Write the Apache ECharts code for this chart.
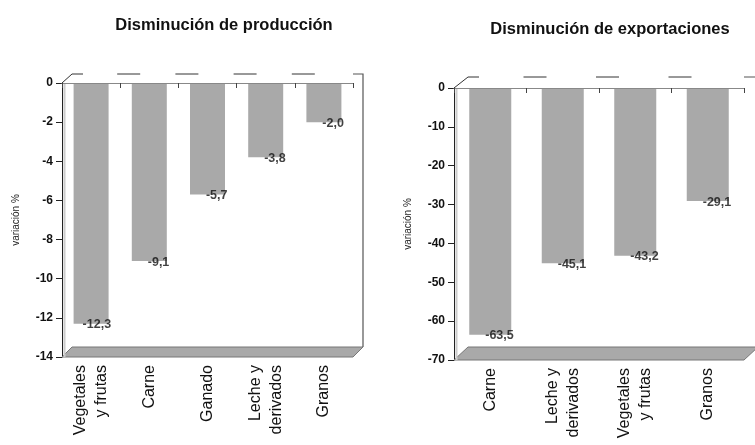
<!DOCTYPE html>
<html>
<head>
<meta charset="utf-8">
<script src="https://cdn.jsdelivr.net/npm/echarts@6/dist/echarts.min.js"></script>
<style>html,body{margin:0;padding:0;background:#fff}#c{width:755px;height:445px}</style>
</head>
<body>
<div id="c"></div>
<script>
// ---- data ----
const title1 = 'Disminución de producción';
const title2 = 'Disminución de exportaciones';
const axisName = 'variación %';
const cats1 = ['Vegetales\ny frutas', 'Carne', 'Ganado', 'Leche y\nderivados', 'Granos'];
const vals1 = [-12.3, -9.1, -5.7, -3.8, -2.0];
const cats2 = ['Carne', 'Leche y\nderivados', 'Vegetales\ny frutas', 'Granos'];
const vals2 = [-63.5, -45.1, -43.2, -29.1];
const yTicks1 = [-14, -12, -10, -8, -6, -4, -2, 0];
const yTicks2 = [-70, -60, -50, -40, -30, -20, -10, 0];

// ---- layout ----
const FONT = '"Liberation Sans", Arial, sans-serif';
const G1 = {left: 62, top: 83, width: 291, height: 274, dx: 10, dy: 9, dyB: 10, bw: 35};
const G2 = {left: 454, top: 88, width: 290, height: 272, dx: 14, dy: 11, dyB: 13, bw: 42};
const BAR = '#a9a9a9';

function fmt(v) { return v.toFixed(1).replace('.', ','); }

function axesFor(gi, g, cats, ticks) {
  const step = ticks[1] - ticks[0];
  return {
    x: [
      { gridIndex: gi, type: 'category', data: cats, position: 'bottom',
        axisLine: {show: true, lineStyle: {color: '#888', width: 1}},
        axisTick: {show: true, length: 5, lineStyle: {color: '#444'}},
        axisLabel: {rotate: 90, fontFamily: FONT, fontSize: 16, color: '#111', margin: 8, lineHeight: 21},
        z: 5 },
      { gridIndex: gi, type: 'category', data: cats, position: 'top',
        axisLine: {show: true, onZero: false, lineStyle: {color: '#222', width: 1}},
        axisTick: {show: true, inside: true, length: 5, lineStyle: {color: '#222'}},
        axisLabel: {show: false} }
    ],
    y: {
      gridIndex: gi, type: 'value', min: ticks[0], max: ticks[ticks.length - 1], interval: step,
      name: axisName, nameLocation: 'middle', nameRotate: 90, nameGap: 41,
      nameTextStyle: {fontFamily: FONT, fontSize: 10, color: '#222'},
      axisLine: {show: true, lineStyle: {color: '#222'}},
      axisTick: {show: true, length: 6, lineStyle: {color: '#222'}},
      axisLabel: {fontFamily: FONT, fontSize: 12, fontWeight: 'bold', color: '#111', margin: 9},
      splitLine: {show: false}
    }
  };
}

const a1 = axesFor(0, G1, cats1, yTicks1);
const a2 = axesFor(1, G2, cats2, yTicks2);

function deco(g, n) {
  const x0 = g.left, x1 = g.left + g.width, y0 = g.top, yb = g.top + g.height;
  const bwid = g.width / n;
  const c = [];
  const ls = {stroke: '#333', lineWidth: 1};
  // floor
  c.push({type: 'polygon', shape: {points: [[x0, yb], [x0 + g.dx, yb - g.dyB], [x1 + g.dx, yb - g.dyB], [x1, yb]]},
    style: {fill: BAR, stroke: '#777', lineWidth: 1}, z: 1});
  // left wall shade
  c.push({type: 'line', shape: {x1: x0 + 2.5, y1: y0, x2: x0 + 2.5, y2: yb}, style: {stroke: '#ccc', lineWidth: 2}, z: 1});
  // diagonal top-left
  c.push({type: 'line', shape: {x1: x0, y1: y0, x2: x0 + g.dx, y2: y0 - g.dy}, style: ls, z: 1});
  // top back edge pieces
  c.push({type: 'line', shape: {x1: x0 + g.dx, y1: y0 - g.dy, x2: x0 + g.dx + 11, y2: y0 - g.dy}, style: ls, z: 1});
  for (let i = 1; i < n; i++) {
    const bx = x0 + i * bwid;
    c.push({type: 'line', shape: {x1: bx - 3, y1: y0 - g.dy, x2: bx + 20, y2: y0 - g.dy}, style: ls, z: 1});
  }
  c.push({type: 'polyline', shape: {points: [[x1, y0 - g.dy], [x1 + g.dx, y0 - g.dy], [x1 + g.dx, yb - g.dyB]]}, style: {stroke: '#555', lineWidth: 1.2, fill: null}, z: 1});
  return c;
}

const chart = echarts.init(document.getElementById('c'), null, {renderer: 'canvas'});
chart.setOption({
  animation: false,
  backgroundColor: '#fff',
  title: [
    {text: title1, left: 219, top: 12, textAlign: 'center',
      textStyle: {fontFamily: FONT, fontSize: 16.5, fontWeight: 'bold', color: '#111'}},
    {text: title2, left: 605, top: 16, textAlign: 'center',
      textStyle: {fontFamily: FONT, fontSize: 16.5, fontWeight: 'bold', color: '#111'}}
  ],
  grid: [
    {left: G1.left, top: G1.top, width: G1.width, height: G1.height, containLabel: false},
    {left: G2.left, top: G2.top, width: G2.width, height: G2.height, containLabel: false}
  ],
  xAxis: [a1.x[0], a1.x[1], a2.x[0], a2.x[1]],
  yAxis: [a1.y, a2.y],
  series: [
    {type: 'bar', xAxisIndex: 0, yAxisIndex: 0, data: vals1, barWidth: G1.bw,
      itemStyle: {color: BAR}, z: 3},
    {type: 'bar', xAxisIndex: 2, yAxisIndex: 1, data: vals2, barWidth: G2.bw,
      itemStyle: {color: BAR}, z: 3},
    {type: 'scatter', xAxisIndex: 0, yAxisIndex: 0, data: vals1, symbolSize: 1,
      itemStyle: {color: 'rgba(0,0,0,0)'}, silent: true, z: 6,
      label: {show: true, position: 'left', distance: 0, offset: [G1.bw / 2 + 3, 1],
        formatter: p => fmt(p.value), fontFamily: FONT, fontSize: 12.5, fontWeight: 'bold', color: '#111'}},
    {type: 'scatter', xAxisIndex: 2, yAxisIndex: 1, data: vals2, symbolSize: 1,
      itemStyle: {color: 'rgba(0,0,0,0)'}, silent: true, z: 6,
      label: {show: true, position: 'left', distance: 0, offset: [G2.bw / 2 + 3, 1],
        formatter: p => fmt(p.value), fontFamily: FONT, fontSize: 12.5, fontWeight: 'bold', color: '#111'}}
  ],
  graphic: deco(G1, cats1.length).concat(deco(G2, cats2.length))
});
</script>
</body>
</html>
